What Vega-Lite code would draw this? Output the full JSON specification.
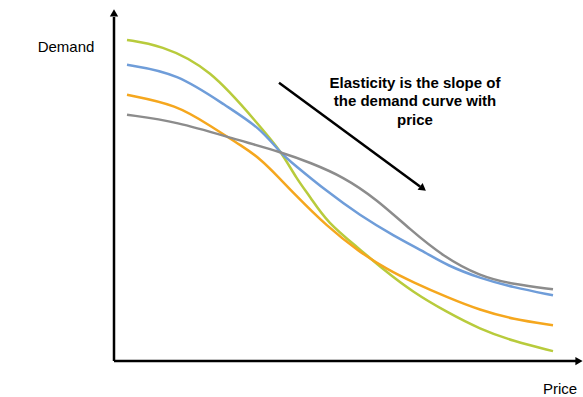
{
  "$schema": "https://vega.github.io/schema/vega-lite/v6.json",
  "width": 583,
  "height": 397,
  "autosize": {"type": "fit", "contains": "padding"},
  "padding": 0,
  "background": "white",
  "config": {"view": {"stroke": null}},
  "datasets": {
    "curves": [
      {"s": "A", "x": 13, "y": 322}, {"s": "A", "x": 46, "y": 317}, {"s": "A", "x": 96, "y": 294}, {"s": "A", "x": 146, "y": 235}, {"s": "A", "x": 166, "y": 212}, {"s": "A", "x": 183, "y": 182}, {"s": "A", "x": 196, "y": 165}, {"s": "A", "x": 213, "y": 139}, {"s": "A", "x": 246, "y": 112}, {"s": "A", "x": 269, "y": 92}, {"s": "A", "x": 299, "y": 69}, {"s": "A", "x": 333, "y": 49}, {"s": "A", "x": 366, "y": 32}, {"s": "A", "x": 399, "y": 20}, {"s": "A", "x": 439, "y": 10},
      {"s": "B", "x": 13, "y": 297}, {"s": "B", "x": 63, "y": 289}, {"s": "B", "x": 113, "y": 255}, {"s": "B", "x": 146, "y": 234}, {"s": "B", "x": 166, "y": 209}, {"s": "B", "x": 179, "y": 198}, {"s": "B", "x": 213, "y": 170}, {"s": "B", "x": 246, "y": 146}, {"s": "B", "x": 279, "y": 126}, {"s": "B", "x": 313, "y": 108}, {"s": "B", "x": 333, "y": 96}, {"s": "B", "x": 366, "y": 83}, {"s": "B", "x": 399, "y": 74}, {"s": "B", "x": 439, "y": 66},
      {"s": "C", "x": 13, "y": 267}, {"s": "C", "x": 63, "y": 257}, {"s": "C", "x": 96, "y": 236}, {"s": "C", "x": 129, "y": 215}, {"s": "C", "x": 146, "y": 203}, {"s": "C", "x": 163, "y": 186}, {"s": "C", "x": 179, "y": 169}, {"s": "C", "x": 213, "y": 135}, {"s": "C", "x": 246, "y": 109}, {"s": "C", "x": 273, "y": 92}, {"s": "C", "x": 299, "y": 79}, {"s": "C", "x": 333, "y": 64}, {"s": "C", "x": 366, "y": 51}, {"s": "C", "x": 399, "y": 42}, {"s": "C", "x": 439, "y": 36},
      {"s": "D", "x": 13, "y": 247}, {"s": "D", "x": 63, "y": 240}, {"s": "D", "x": 119, "y": 223}, {"s": "D", "x": 169, "y": 209}, {"s": "D", "x": 196, "y": 199}, {"s": "D", "x": 229, "y": 185}, {"s": "D", "x": 263, "y": 162}, {"s": "D", "x": 296, "y": 132}, {"s": "D", "x": 329, "y": 105}, {"s": "D", "x": 366, "y": 85}, {"s": "D", "x": 399, "y": 77}, {"s": "D", "x": 439, "y": 72}
    ],
    "rules": [
      {"x": 0, "y": 0, "x2": 0, "y2": 345},
      {"x": 0, "y": 0, "x2": 462, "y2": 0},
      {"x": 165, "y": 279, "x2": 306, "y2": 175}
    ],
    "heads": [
      {"x": 0, "y": 349, "a": 0},
      {"x": 465, "y": 0, "a": 90},
      {"x": 309, "y": 173, "a": 127}
    ],
    "plain": [
      {"x": -48, "y": 315, "t": "Demand"},
      {"x": 446, "y": -28, "t": "Price"}
    ],
    "bold": [
      {"x": 301, "y": 279, "t": "Elasticity is the slope of"},
      {"x": 301, "y": 261, "t": "the demand curve with"},
      {"x": 301, "y": 242, "t": "price"}
    ]
  },
  "layer": [
    {
      "data": {"name": "curves"},
      "mark": {"type": "line", "interpolate": "basis", "strokeWidth": 2.5},
      "encoding": {
        "x": {"field": "x", "type": "quantitative", "scale": {"domain": [-114, 469], "nice": false, "zero": false}, "axis": null},
        "y": {"field": "y", "type": "quantitative", "scale": {"domain": [-35, 362], "nice": false, "zero": false}, "axis": null},
        "color": {"field": "s", "type": "nominal", "scale": {"domain": ["D", "C", "B", "A"], "range": ["#8C8C8C", "#F5A71E", "#6F9DD9", "#B8CB3C"]}, "legend": null},
        "order": {"field": "x", "type": "quantitative"}
      }
    },
    {
      "data": {"name": "rules"},
      "mark": {"type": "rule", "color": "black", "strokeWidth": 2.5},
      "encoding": {
        "x": {"field": "x", "type": "quantitative"},
        "y": {"field": "y", "type": "quantitative"},
        "x2": {"field": "x2"},
        "y2": {"field": "y2"}
      }
    },
    {
      "data": {"name": "heads"},
      "mark": {"type": "point", "filled": true, "color": "black", "opacity": 1, "size": 70, "shape": "triangle-up"},
      "encoding": {
        "x": {"field": "x", "type": "quantitative"},
        "y": {"field": "y", "type": "quantitative"},
        "angle": {"field": "a", "type": "quantitative", "scale": null}
      }
    },
    {
      "data": {"name": "plain"},
      "mark": {"type": "text", "font": "Liberation Sans", "fontSize": 15, "color": "black", "align": "center", "baseline": "middle"},
      "encoding": {
        "x": {"field": "x", "type": "quantitative"},
        "y": {"field": "y", "type": "quantitative"},
        "text": {"field": "t"}
      }
    },
    {
      "data": {"name": "bold"},
      "mark": {"type": "text", "font": "Liberation Sans", "fontSize": 15, "fontWeight": "bold", "color": "black", "align": "center", "baseline": "middle"},
      "encoding": {
        "x": {"field": "x", "type": "quantitative"},
        "y": {"field": "y", "type": "quantitative"},
        "text": {"field": "t"}
      }
    }
  ]
}
